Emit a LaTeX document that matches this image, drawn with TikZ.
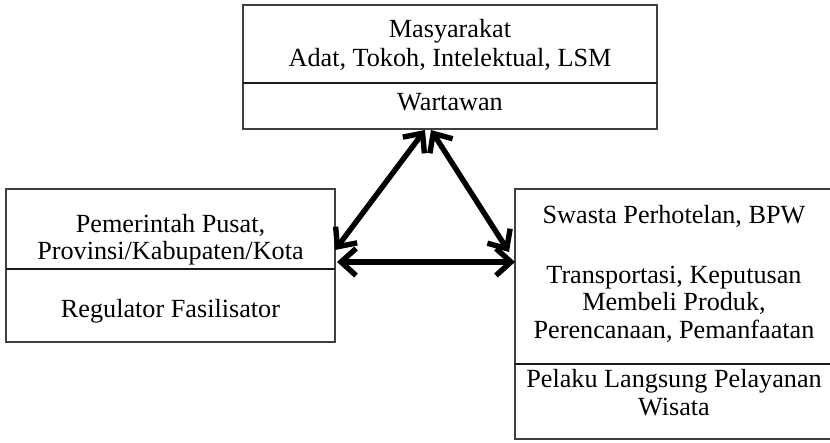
\documentclass[tikz,border=0pt]{standalone}
\usepackage{fontspec}
\setmainfont{Liberation Serif}
\usetikzlibrary{arrows.meta}
\begin{document}
\begin{tikzpicture}[x=1pt,y=-1pt,
  box/.style={draw=black!75, line width=1.1pt, inner sep=0pt, outer sep=0pt},
  divider/.style={draw=black!90, line width=1.3pt},
  txt/.style={anchor=base, inner sep=0pt, font=\fontsize{26.2}{28}\selectfont},
  link/.style={line width=5.4pt, {Straight Barb[length=15pt,width=27pt]}-{Straight Barb[length=15pt,width=27pt]}}]
\useasboundingbox (0,0) rectangle (830,442);
% boxes
\node[box, minimum width=414pt, minimum height=124pt] (top) at (450,67) {};
\node[box, minimum width=329pt, minimum height=153pt] (left) at (170.5,265.5) {};
\node[box, minimum width=323pt, minimum height=250pt] (right) at (676.5,314) {};
% dividers
\draw[divider] (243,83) -- (657,83);
\draw[divider] (6,269) -- (335,269);
\draw[divider] (515,364) -- (838,364);
% texts
\node[txt] (t1) at (450,37) {Masyarakat};
\node[txt] (t2) at (450,66) {Adat, Tokoh, Intelektual, LSM};
\node[txt] (t3) at (450,110) {Wartawan};
\node[txt] (l1) at (170.5,232) {Pemerintah Pusat,};
\node[txt] (l2) at (170.5,259) {Provinsi/Kabupaten/Kota};
\node[txt] (l3) at (170.5,317) {Regulator Fasilisator};
\node[txt] (r1) at (674,223) {Swasta Perhotelan, BPW};
\node[txt] (r2) at (674,283) {Transportasi, Keputusan};
\node[txt] (r3) at (674,310) {Membeli Produk,};
\node[txt] (r4) at (674,338) {Perencanaan, Pemanfaatan};
\node[txt] (r5) at (674,387) {Pelaku Langsung Pelayanan};
\node[txt] (r6) at (674,415) {Wisata};
% connector ends
\coordinate (tl) at (425,130);
\coordinate (tr) at (431,130);
\coordinate (lt) at (335,250);
\coordinate (lr) at (337,262);
\coordinate (rl) at (515,262);
\coordinate (rt) at (509,252);
\draw[link] (lt) -- (tl);
\draw[link] (tr) -- (rt);
\draw[link] (lr) -- (rl);
\end{tikzpicture}
\end{document}
